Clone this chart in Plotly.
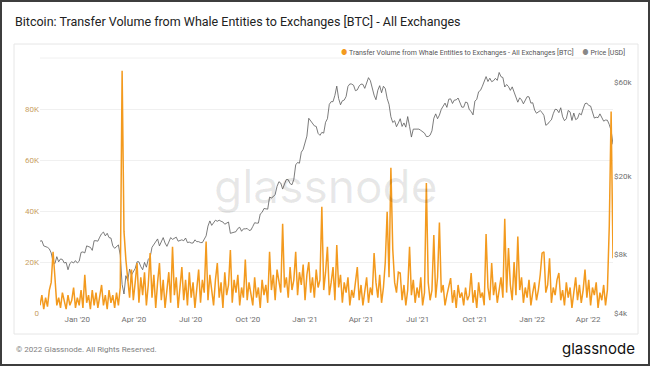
import math
import pandas as pd
import plotly.graph_objects as go

# ---------------- data ----------------
START_DATE = "2019-11-02"
STEP_DAYS = 3

# BTC price [USD], one value every 3 days from START_DATE
price_usd = [
    9300, 9350, 8800, 8750, 8650, 8500, 8100, 7300, 7150, 7750,
    7300, 7550, 7500, 7200, 7250, 6650, 7150, 7300, 7200, 7400,
    7200, 7350, 8150, 8200, 8100, 8800, 8700, 8650, 8350, 9350,
    9350, 9300, 9750, 10150, 10350, 9900, 10200, 9700, 9650, 8800,
    8550, 8750, 8900, 7900, 5600, 5000, 6200, 5850, 6700, 6250,
    6450, 6750, 7300, 7300, 6900, 6650, 7250, 6850, 7500, 7700,
    8650, 8900, 9150, 9550, 8800, 9350, 9700, 9100, 8750, 9200,
    9700, 9500, 9650, 9750, 9300, 9350, 9450, 9350, 9650, 9150,
    9200, 9100, 9100, 9450, 9250, 9250, 9150, 9150, 9600, 9900,
    11100, 11800, 11200, 11600, 11900, 11750, 11900, 11750, 11650, 11350,
    11500, 11650, 10200, 10250, 10350, 10400, 10800, 10950, 10450, 10750,
    10750, 10800, 10550, 10600, 11050, 11550, 11500, 11500, 12800, 13050,
    13650, 13550, 13550, 15600, 15450, 15700, 16100, 17700, 18700, 18400,
    17150, 18200, 19200, 19150, 18300, 18050, 19250, 22800, 23450, 23250,
    26450, 27350, 29350, 31950, 39400, 38300, 37350, 36050, 35800, 33000,
    32250, 33400, 33100, 37600, 39200, 46400, 47900, 47900, 51600, 57500,
    49700, 46200, 48400, 48800, 50900, 57300, 59000, 58900, 58100, 54500,
    55000, 57600, 58900, 58700, 56000, 59800, 63500, 61300, 56200, 51700,
    49000, 54800, 57800, 53200, 57400, 55800, 49700, 46400, 40100, 37500,
    38300, 35700, 37300, 39200, 35800, 37300, 35500, 40200, 35800, 31600,
    34700, 34700, 35000, 34700, 34200, 33800, 33100, 31800, 31800, 32300,
    34000, 39400, 41500, 39200, 40900, 43800, 45600, 47100, 44800, 49300,
    49500, 46900, 48800, 48900, 50000, 46800, 44900, 44900, 47700, 47300,
    43600, 42700, 41000, 48200, 49200, 53800, 54700, 57400, 60900, 64300,
    60700, 63100, 60600, 61300, 63000, 61500, 67500, 64200, 63600, 56900,
    58600, 57200, 54700, 57000, 53600, 50500, 47600, 50100, 48900, 46700,
    49000, 50800, 50700, 47100, 47300, 43400, 41800, 42700, 43100, 42200,
    40700, 36300, 36800, 37900, 38700, 41600, 43800, 43600, 42100, 44600,
    40100, 38300, 39200, 43200, 42500, 38400, 41900, 38800, 39300, 41800,
    41000, 44000, 46800, 47100, 45800, 45500, 42300, 39500, 39900, 39700,
    41500, 39500, 38100, 38600, 38500, 36600, 34100, 29000,
]

# Transfer volume from whale entities to exchanges [thousand BTC]
volume_kbtc = [
    3, 7, 1.5, 6, 2.5, 9, 12, 24, 14, 3,
    6, 2, 8, 4, 1.5, 7, 3, 5, 10, 2,
    6, 3, 9, 2, 15, 4, 7, 1.5, 9, 3,
    8, 2, 6, 11, 3, 7, 1.5, 9, 4, 7,
    2, 8, 3, 10, 95, 32, 21, 13, 6, 17,
    5, 12, 19.6, 4, 14, 7, 16, 3, 11, 23.5,
    6, 15, 2, 12, 19.6, 5, 13, 2, 9, 16,
    4, 26, 7, 14, 2, 11, 18, 5, 13, 3,
    16, 6, 12, 2, 10, 17, 4, 13, 8, 28,
    5, 15, 9, 3, 13, 19.6, 6, 12, 2, 16,
    7, 11, 24.7, 4, 13, 8, 15, 3, 10, 6,
    21, 5, 12, 8, 3, 14, 6, 10, 2, 13,
    7, 11, 4, 24, 9, 15, 5, 17, 12, 8,
    35, 10, 14, 6, 18, 9, 13, 24, 7, 16,
    11, 19, 5, 15, 20, 8, 14, 6, 17, 10,
    13, 41.7, 9, 16, 26, 7, 12, 18, 5, 26.7,
    10, 15, 4, 12, 8, 14, 3, 9, 6, 13,
    18, 5, 11, 3, 9, 14, 4, 10, 7, 23.5,
    12, 6, 15, 4, 10, 20, 39.7, 14, 57, 25,
    12, 8, 16, 15.7, 5, 11, 3, 9, 26, 7,
    13, 4, 10, 6, 14, 3, 8, 51, 12, 5,
    9, 30.6, 6, 14, 35.5, 8, 11, 3, 7, 10,
    13.7, 4, 9, 2, 11, 6, 8, 3, 10, 5,
    7, 15.7, 4, 9, 2, 12, 6, 8, 3, 31,
    10, 5, 19.6, 7, 12, 4, 9, 14, 6, 37,
    8, 25.5, 11, 5, 20, 7, 30, 9, 14, 4,
    10, 6, 13, 3, 8, 12, 5, 9, 15, 23.5,
    24, 8, 11, 21.5, 4, 10, 7, 13, 15.7, 5,
    9, 3, 12, 6, 10, 2, 8, 14, 5, 11,
    4, 9, 17, 6, 13, 3, 10, 7, 12, 2,
    8, 5, 11, 3, 9, 34, 79, 21.5,
]

x_tick_dates = ["2020-01-01", "2020-04-01", "2020-07-01", "2020-10-01",
                "2021-01-01", "2021-04-01", "2021-07-01", "2021-10-01",
                "2022-01-01", "2022-04-01"]
x_tick_labels = ["Jan '20", "Apr '20", "Jul '20", "Oct '20", "Jan '21",
                 "Apr '21", "Jul '21", "Oct '21", "Jan '22", "Apr '22"]
vol_tick_vals = [0, 20, 40, 60, 80]
vol_tick_labels = ["0", "20K", "40K", "60K", "80K"]
price_tick_vals = [4000, 8000, 20000, 60000]
price_tick_labels = ["$4k", "$8k", "$20k", "$60k"]

TITLE = "Bitcoin: Transfer Volume from Whale Entities to Exchanges [BTC] - All Exchanges"
VOL_NAME = "Transfer Volume from Whale Entities to Exchanges - All Exchanges [BTC]"
PRICE_NAME = "Price [USD]"

# ---------------- layout geometry ----------------
W, H = 650, 366
PL, PR, PT, PB = 40, 613, 58, 313     # plot area in pixels
ORANGE = "#f39a1e"
PRICE_COLOR = "#5a5a5a"


def px_x(px):
    return (px - PL) / (PR - PL)


def px_y(py):
    return (PB - py) / (PB - PT)


n = min(len(price_usd), len(volume_kbtc))
dates = pd.date_range(START_DATE, periods=n, freq=f"{STEP_DAYS}D")

fig = go.Figure()
fig.add_trace(go.Scatter(
    x=dates, y=price_usd[:n], name=PRICE_NAME, mode="lines",
    line=dict(color=PRICE_COLOR, width=0.8), yaxis="y",
))
fig.add_trace(go.Scatter(
    x=dates, y=volume_kbtc[:n], name=VOL_NAME, mode="lines",
    line=dict(color=ORANGE, width=1.5), yaxis="y2",
))

octave_px = 59.0
price_top = 4000 * 2 ** ((PB - PT) / octave_px)

fig.update_layout(
    width=W, height=H,
    margin=dict(l=PL, r=W - PR, t=PT, b=H - PB, pad=0),
    paper_bgcolor="white", plot_bgcolor="white",
    showlegend=False,
    font=dict(family="Roboto, Inter, sans-serif", color="#666"),
    xaxis=dict(
        type="date", range=[dates[0], dates[-1]],
        tickvals=x_tick_dates, ticktext=x_tick_labels,
        tickfont=dict(size=8, color="#707070"),
        showgrid=False, zeroline=False, showline=False, ticks="",
    ),
    yaxis=dict(
        type="log", side="right",
        range=[math.log10(4000), math.log10(price_top)],
        tickvals=price_tick_vals, ticktext=price_tick_labels,
        tickfont=dict(size=8, color="#707070"),
        showgrid=False, zeroline=False, showline=False, ticks="",
    ),
    yaxis2=dict(
        overlaying="y", side="left", range=[0, 100],
        tickvals=vol_tick_vals, ticktext=vol_tick_labels,
        tickfont=dict(size=8, color="#c9a064"),
        showgrid=True, gridcolor="#f0f0f0", gridwidth=1,
        zeroline=False, showline=False, ticks="",
    ),
)

shapes = [
    # chart panel border
    dict(type="rect", xref="paper", yref="paper", layer="below",
         x0=px_x(14), x1=px_x(638), y0=px_y(334), y1=px_y(44),
         line=dict(color="#e6e6e6", width=1), fillcolor="white"),
    # top line of plot area
    dict(type="line", xref="paper", yref="paper", layer="below",
         x0=0, x1=1, y0=1, y1=1, line=dict(color="#f0f0f0", width=1)),
    # outer dark frame
    dict(type="rect", xref="paper", yref="paper",
         x0=px_x(0), x1=px_x(W), y0=px_y(H), y1=px_y(0),
         line=dict(color="#3d3d3d", width=4)),
]
fig.update_layout(shapes=shapes)

annotations = [
    dict(text=TITLE, xref="paper", yref="paper", x=px_x(13), y=px_y(21),
         xanchor="left", yanchor="middle", showarrow=False,
         font=dict(size=12.5, color="#222", family="Roboto, sans-serif")),
    dict(text=(f'<span style="color:{ORANGE}">●</span> {VOL_NAME}'
               f'     <span style="color:#888">●</span> {PRICE_NAME}'),
         xref="paper", yref="paper", x=px_x(627), y=px_y(52),
         xanchor="right", yanchor="middle", showarrow=False,
         font=dict(size=7, color="#555")),
    dict(text="glassnode", xref="paper", yref="paper", x=px_x(326), y=px_y(186),
         xanchor="center", yanchor="middle", showarrow=False,
         font=dict(size=46, color="rgba(0,0,0,0.09)", family="Inter, sans-serif")),
    dict(text="© 2022 Glassnode. All Rights Reserved.", xref="paper", yref="paper",
         x=px_x(14), y=px_y(349), xanchor="left", yanchor="middle", showarrow=False,
         font=dict(size=8, color="#808080")),
    dict(text="glassnode", xref="paper", yref="paper",
         x=px_x(637), y=px_y(348), xanchor="right", yanchor="middle", showarrow=False,
         font=dict(size=15, color="#111", family="Inter, sans-serif")),
]
fig.update_layout(annotations=annotations)

fig.write_html("out.html")
